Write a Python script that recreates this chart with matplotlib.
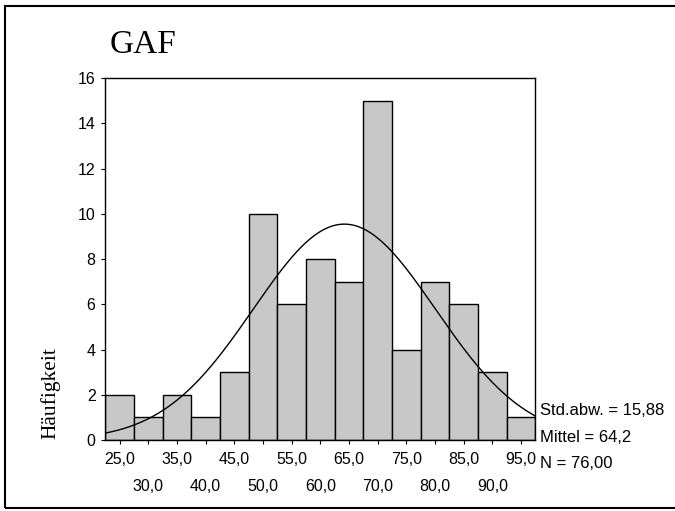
import numpy as np
import matplotlib
matplotlib.use('Agg')
import matplotlib.pyplot as plt
from matplotlib.patches import Rectangle

# Bin centers and frequencies of the GAF histogram
bins = [25, 30, 35, 40, 45, 50, 55, 60, 65, 70, 75, 80, 85, 90, 95]
counts = [2, 1, 2, 1, 3, 10, 6, 8, 7, 15, 4, 7, 6, 3, 1]
std_dev = 15.88
mean = 64.2
n = 76
bin_width = 5
stat_lines = ['Std.abw. = 15,88', 'Mittel = 64,2', 'N = 76,00']

fig = plt.figure(figsize=(6.75, 5.11), dpi=100)
ax = fig.add_axes([0.156, 0.139, 0.637, 0.708])

ax.bar(bins, counts, width=bin_width, color='#c8c8c8', edgecolor='black', linewidth=1.0)

# fitted normal curve
xs = np.linspace(bins[0] - bin_width / 2, bins[-1] + bin_width / 2, 300)
ys = n * bin_width / (std_dev * np.sqrt(2 * np.pi)) * np.exp(-0.5 * ((xs - mean) / std_dev) ** 2)
ax.plot(xs, ys, color='black', linewidth=1.0)

ax.set_xlim(bins[0] - bin_width / 2, bins[-1] + bin_width / 2)
ax.set_ylim(0, 16)
ax.set_yticks(range(0, 17, 2))

fmt = lambda b: f'{b:.1f}'.replace('.', ',')
ax.set_xticks(bins[0::2])
ax.set_xticklabels([fmt(b) for b in bins[0::2]])
ax.set_xticks(bins[1::2], minor=True)
ax.set_xticklabels([fmt(b) for b in bins[1::2]], minor=True)

for t in ax.get_yticklabels() + ax.get_xticklabels() + ax.get_xticklabels(minor=True):
    t.set_fontsize(11.5)
    t.set_family('Liberation Sans')
ax.tick_params(axis='y', direction='out', length=3, width=0.8, pad=4)
ax.tick_params(axis='x', which='major', direction='out', length=3, width=0.8, pad=6)
ax.tick_params(axis='x', which='minor', direction='out', length=3, width=0.8, pad=25)
for s in ax.spines.values():
    s.set_linewidth(1.0)

ax.set_ylabel('Häufigkeit', family='Liberation Serif', fontsize=15.5)
ax.yaxis.set_label_coords(-0.105, 0.13)

fig.text(0.163, 0.912, 'GAF', family='Liberation Serif', fontsize=24, va='center')

for i, line in enumerate(stat_lines):
    fig.text(0.8, 0.196 - i * 0.052, line, family='Liberation Sans', fontsize=12, va='center')

fig.patches.append(Rectangle((0.007, 0.006), 1.1, 0.983, transform=fig.transFigure,
                             fill=False, edgecolor='black', linewidth=1.5))

fig.savefig('out.png', dpi=100)
